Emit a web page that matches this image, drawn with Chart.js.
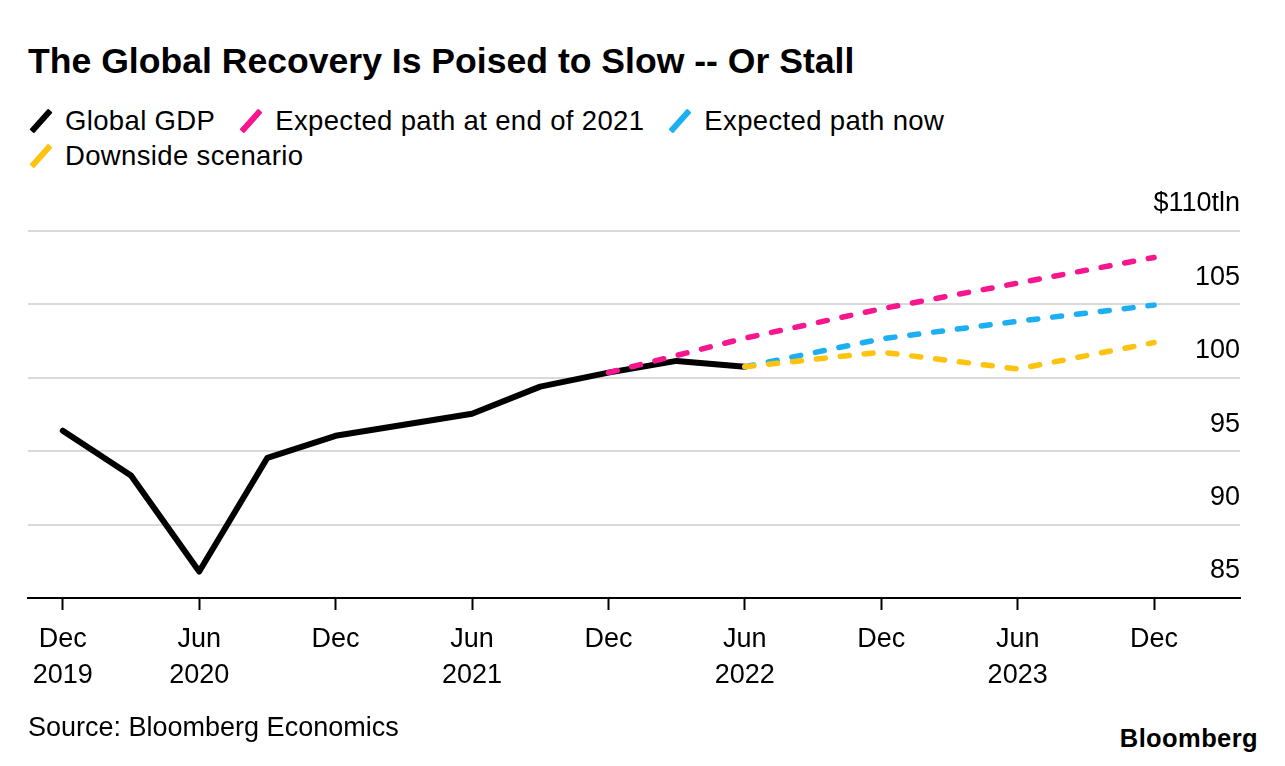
<!DOCTYPE html>
<html>
<head>
<meta charset="utf-8">
<script src="https://cdn.jsdelivr.net/npm/chart.js@4.4.1/dist/chart.umd.min.js"></script>
<style>
  html, body { margin: 0; padding: 0; background: #fff; }
  body { width: 1285px; height: 766px; position: relative; overflow: hidden;
         font-family: "Liberation Sans", Arial, sans-serif; color: #000; }
  #title { position: absolute; left: 28px; top: 41px; font-size: 35.6px; line-height: 40px;
           font-weight: bold; white-space: nowrap; }
  .row { position: absolute; left: 29px; display: flex; font-size: 27.5px; line-height: 35px;
         letter-spacing: 0.35px; white-space: nowrap; }
  .item { display: flex; margin-right: 24px; }
  .item i { position: relative; width: 23px; height: 35px; margin-right: 13px; }
  .item i::after { content: ""; position: absolute; left: 8.5px; top: 4px; width: 6px; height: 28px;
                   background: var(--c); transform: rotate(42deg); border-radius: 1px; }
  #wrap { position: absolute; left: 0; top: 180px; width: 1285px; height: 540px; }
  #source { position: absolute; left: 28px; top: 710px; font-size: 27px; line-height: 35px; }
  #logo { position: absolute; right: 27px; top: 723px; font-size: 25.5px; line-height: 30px;
          font-weight: bold; letter-spacing: 0.4px; }
</style>
</head>
<body>
<div id="title">The Global Recovery Is Poised to Slow -- Or Stall</div>
<div class="row" style="top:103px">
  <span class="item"><i style="--c:#000000"></i>Global GDP</span>
  <span class="item"><i style="--c:#f7168e"></i>Expected path at end of 2021</span>
  <span class="item"><i style="--c:#1cb0f2"></i>Expected path now</span>
</div>
<div class="row" style="top:138px">
  <span class="item"><i style="--c:#fdc30f"></i>Downside scenario</span>
</div>
<div id="wrap"><canvas id="chart" width="1285" height="540"></canvas></div>
<div id="source">Source: Bloomberg Economics</div>
<div id="logo">Bloomberg</div>

<script>
// quarters: 0 = Dec 2019 ... 16 = Dec 2023
const quarters = ["Dec 2019", "Mar 2020", "Jun 2020", "Sep 2020", "Dec 2020", "Mar 2021",
  "Jun 2021", "Sep 2021", "Dec 2021", "Mar 2022", "Jun 2022", "Sep 2022", "Dec 2022",
  "Mar 2023", "Jun 2023", "Sep 2023", "Dec 2023"];

const gdpX = [0, 1, 2, 3, 4, 5, 6, 7, 8, 9, 10];
const gdpValues = [96.4, 93.35, 86.8, 94.55, 96.05, 96.8, 97.55, 99.4, 100.35, 101.15, 100.75];

const end2021X = [8, 10, 12, 14, 16];
const end2021Values = [100.35, 102.7, 104.7, 106.45, 108.2];

const nowX = [10, 12, 14, 16];
const nowValues = [100.75, 102.65, 103.85, 104.95];

const downsideX = [10, 12, 14, 16];
const downsideValues = [100.75, 101.75, 100.6, 102.4];

const xTickPos = [0, 2, 4, 6, 8, 10, 12, 14, 16];
const xTickLabels = [["Dec", "2019"], ["Jun", "2020"], ["Dec", ""], ["Jun", "2021"], ["Dec", ""],
  ["Jun", "2022"], ["Dec", ""], ["Jun", "2023"], ["Dec", ""]];
const yTicks = [85, 90, 95, 100, 105, 110];

const fontFamily = "'Liberation Sans', Arial, sans-serif";

function pts(xs, ys) {
  return xs.map((x, i) => ({ x: x, y: ys[i] }));
}

function dashed(label, xs, ys, color, order) {
  return {
    label: label,
    data: pts(xs, ys),
    borderColor: color,
    borderWidth: 5.5,
    borderDash: [9, 15],
    borderCapStyle: "round",
    borderJoinStyle: "round",
    pointRadius: 0,
    tension: 0,
    order: order
  };
}

new Chart(document.getElementById("chart"), {
  type: "line",
  data: {
    datasets: [
      {
        label: "Global GDP",
        data: pts(gdpX, gdpValues),
        borderColor: "#000000",
        borderWidth: 6,
        borderCapStyle: "round",
        borderJoinStyle: "round",
        pointRadius: 0,
        tension: 0,
        order: 4
      },
      dashed("Expected path at end of 2021", end2021X, end2021Values, "#f7168e", 3),
      dashed("Expected path now", nowX, nowValues, "#1cb0f2", 2),
      dashed("Downside scenario", downsideX, downsideValues, "#fdc30f", 1)
    ]
  },
  options: {
    responsive: false,
    animation: false,
    devicePixelRatio: 1,
    layout: { padding: { top: 51, left: 28, right: 45, bottom: 0 } },
    plugins: { legend: { display: false }, tooltip: { enabled: false } },
    scales: {
      x: {
        type: "linear",
        min: -0.51,
        max: 17.26,
        afterBuildTicks: s => { s.ticks = xTickPos.map(v => ({ value: v })); },
        afterFit: s => { s.height = 122; },
        grid: { drawOnChartArea: false, drawTicks: true, tickLength: 12, tickColor: "#000", tickWidth: 2 },
        border: { display: true, color: "#000", width: 2 },
        ticks: {
          autoSkip: false,
          maxRotation: 0,
          padding: 12,
          color: "#000",
          font: { size: 27, family: fontFamily, lineHeight: 1.333 },
          callback: (v, i) => xTickLabels[i]
        }
      },
      y: {
        position: "right",
        min: 85,
        max: 110,
        afterBuildTicks: s => { s.ticks = yTicks.map(v => ({ value: v })); },
        afterFit: s => { s.width = 0; },
        grid: { color: "#d9d9d9", lineWidth: 2, drawTicks: false },
        border: { display: false },
        ticks: {
          mirror: true,
          padding: 0,
          labelOffset: -27,
          color: "#000",
          font: { size: 27, family: fontFamily },
          callback: v => (v === 110 ? "$110tln" : String(v))
        }
      }
    }
  }
});
</script>
</body>
</html>
